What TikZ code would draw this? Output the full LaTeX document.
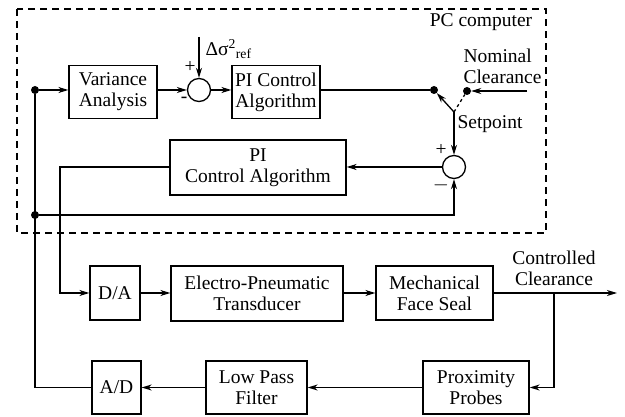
\documentclass[tikz,border=0pt]{standalone}
\usepackage{fontspec}
\setmainfont{Liberation Serif}
\usetikzlibrary{arrows.meta}
\tikzset{
  block/.style={
    draw,
    line width=1.3pt,
    align=center,
    inner sep=0pt
  },
  sumjunction/.style={
    circle,
    draw,
    line width=1.3pt,
    inner sep=0pt,
    minimum size=23pt
  },
  jdot/.style={
    circle,
    fill,
    inner sep=0pt,
    minimum size=8pt
  },
  sig/.style={
    -{Stealth[length=10pt, width=6pt, inset=3pt]},
    line width=1.3pt
  },
  wire/.style={
    line width=1.3pt
  }
}

\begin{document}
\begin{tikzpicture}[x=1pt, y=-1pt, font=\fontsize{19.5}{21}\selectfont]
    \useasboundingbox (0,0) rectangle (625,417);

    % PC computer frame
    \draw[line width=1.3pt, dash pattern=on 7pt off 5pt] (17,9) rectangle (546,233);
    \node (pc) at (481,22) {PC computer};

    % upper loop
    \node[jdot] (d1) at (35,90) {};
    \node[jdot] (d2) at (35,215) {};
    \node[block, minimum width=88pt, minimum height=53pt] (var) at (113,92) {Variance\\Analysis};
    \node[sumjunction] (sum1) at (199,90) {};
    \node[block, minimum width=88pt, minimum height=53pt] (pi1) at (276,92) {PI Control\\Algorithm};
    \coordinate (dref) at (199,37);
    \node[anchor=west] (dlab) at (202,49) {Δσ\textsuperscript{2}\textsubscript{ref}};
    \node (p1) at (190,67) {+};
    \node (m1) at (184,100) {-};

    % switch
    \node[jdot] (s1) at (434,90) {};
    \node[jdot] (s2) at (467,91) {};
    \coordinate (piv) at (454,112);
    \coordinate (nom) at (527,91);
    \node[anchor=west, align=left] (nomlab) at (460,66) {Nominal\\Clearance};
    \node (setlab) at (490,124) {Setpoint};

    % inner loop
    \node[sumjunction] (sum2) at (454,167) {};
    \node[block, minimum width=176pt, minimum height=55pt] (pi2) at (258,167.5) {PI\\Control Algorithm};
    \coordinate (c1) at (60,167);
    \node (p2) at (441,150) {+};
    \node (m2) at (441,185) {$-$};

    % plant
    \node[block, minimum width=50pt, minimum height=54pt] (da) at (115,293) {D/A};
    \node[block, minimum width=172pt, minimum height=55pt] (ept) at (257,293.5) {Electro-Pneumatic\\Transducer};
    \node[block, minimum width=117pt, minimum height=54pt] (mfs) at (434.5,293) {Mechanical\\Face Seal};
    \coordinate (br) at (554,293);
    \coordinate (out) at (617,293);
    \node[align=center] (cclab) at (554,268) {Controlled\\Clearance};

    % measurement
    \node[block, minimum width=106pt, minimum height=53pt] (prox) at (476,387.5) {Proximity\\Probes};
    \node[block, minimum width=101pt, minimum height=53pt] (lpf) at (256.5,387.5) {Low Pass\\Filter};
    \node[block, minimum width=49pt, minimum height=53pt] (ad) at (116.5,387.5) {A/D};

    % connectors
    \draw[sig] (d1) -- (var.west |- d1);
    \draw[sig] (var.east |- sum1) -- (sum1.west);
    \draw[sig] (sum1.east) -- (pi1.west |- sum1);
    \draw[sig] (dref) -- (sum1.north);
    \draw[wire] (pi1.east |- s1) -- (s1);
    \draw[sig] (nom) -- (s2);
    \draw[sig] (piv) -- (s1);
    \draw[wire, dashed] (piv) -- (s2);
    \draw[sig] (piv) -- (sum2.north);
    \draw[sig] (sum2.west) -- (pi2.east |- sum2);
    \draw[sig] (pi2.west |- c1) -- (c1) |- (da.west);
    \draw[sig] (da.east) -- (ept.west |- da);
    \draw[sig] (ept.east |- mfs) -- (mfs.west);
    \draw[sig] (mfs.east) -- (out);
    \draw[sig] (br) |- (prox.east);
    \draw[sig] (prox.west) -- (lpf.east);
    \draw[sig] (lpf.west) -- (ad.east);
    \draw[wire] (ad.west) -| (d1);
    \draw[sig] (d2) -| (sum2.south);

\end{tikzpicture}
\end{document}
